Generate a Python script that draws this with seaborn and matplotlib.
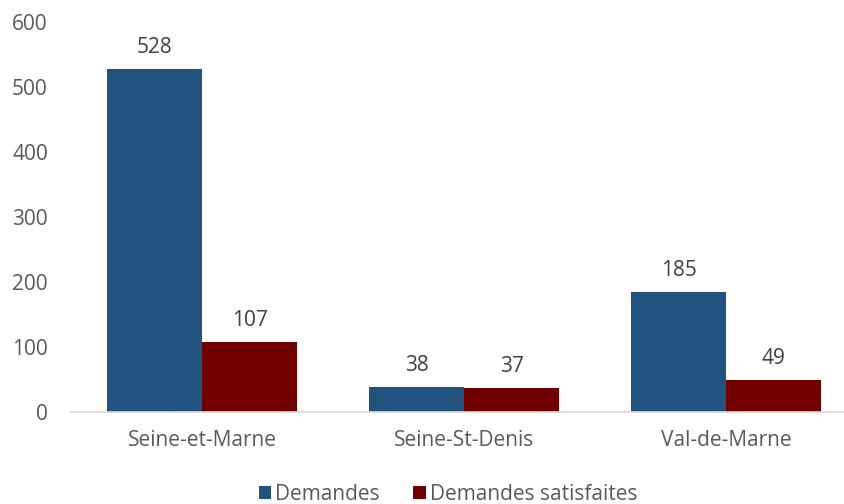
import matplotlib
matplotlib.use("Agg")
import matplotlib.pyplot as plt
import seaborn as sns
import pandas as pd

departements = ["Seine-et-Marne", "Seine-St-Denis", "Val-de-Marne"]
demandes = [528, 38, 185]
satisfaites = [107, 37, 49]
series = ["Demandes", "Demandes satisfaites"]
couleurs = ["#22537F", "#700000"]

df = pd.DataFrame({
    "departement": departements * 2,
    "serie": [series[0]] * 3 + [series[1]] * 3,
    "valeur": demandes + satisfaites,
})

sns.set_theme(style="white")
plt.rcParams["font.family"] = ["Open Sans", "DejaVu Sans"]

fig = plt.figure(figsize=(8.45, 5.04), dpi=100)
ax = fig.add_axes([70 / 845, 92 / 504, 775 / 845, 390 / 504])

sns.barplot(
    data=df, x="departement", y="valeur", hue="serie",
    palette=couleurs, width=0.725, gap=0, saturation=1,
    linewidth=0, ax=ax,
)

# valeurs au-dessus des barres
for cont in ax.containers:
    ax.bar_label(cont, padding=8, fontsize=15, color="#404040")

ax.set_ylim(0, 600)
ax.set_xlim(-0.504, 2.454)
ax.set_yticks(range(0, 601, 100))
ax.set_xlabel("")
ax.set_ylabel("")
ax.tick_params(axis="both", labelsize=15, colors="#595959", length=0)
ax.tick_params(axis="x", pad=13)
ax.tick_params(axis="y", pad=16)
for s in ["top", "right", "left"]:
    ax.spines[s].set_visible(False)
ax.spines["bottom"].set_color("#D9D9D9")
ax.spines["bottom"].set_linewidth(1.2)

ax.get_legend().remove()
handles, labels = ax.get_legend_handles_labels()
fig.legend(
    handles, labels, loc="center", bbox_to_anchor=(448 / 845, 10 / 504),
    ncol=2, frameon=False, fontsize=15, handlelength=0.6, handleheight=0.6,
    handletextpad=0.2, columnspacing=1.6, labelcolor="#595959",
    borderpad=0, borderaxespad=0,
)

fig.savefig("out.png", dpi=100)
